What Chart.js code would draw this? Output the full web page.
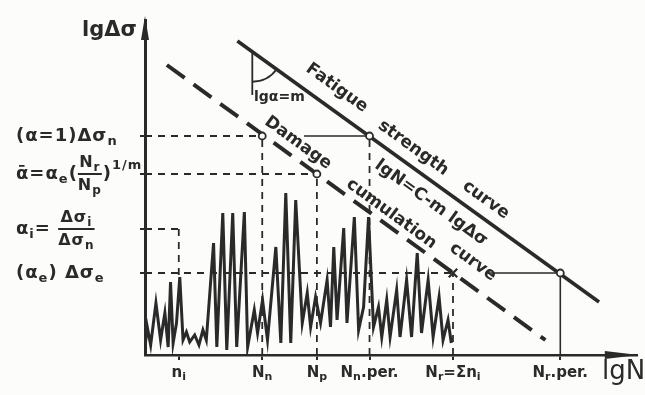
<!DOCTYPE html>
<html>
<head>
<meta charset="utf-8">
<script src="https://cdn.jsdelivr.net/npm/chart.js@4.4.0/dist/chart.umd.min.js"></script>
<style>
  html, body { margin: 0; padding: 0; background: #fcfcfa; }
</style>
</head>
<body>
<canvas id="chart" width="645" height="395"></canvas>
<script>
// =============== D A T A ================================
const xMax = 49.5;   // lg N
const yMax = 33.5;   // lg Δσ

const xTickValues = [3.4, 11.8, 17.3, 22.6, 31.0, 41.8];
const xTickLabels = ['n_{i}', 'N_{n}', 'N_{p}', 'N_{n}.per.', 'N_{r}=Σn_{i}', 'N_{r}.per.'];

const yTickValues = [21.9, 18.1, 12.6, 8.2];
const yTickLabels = [
  ['(α=1)Δσ_{n}'],
  ['ᾱ=α_{e}(', { num: 'N_{r}', den: 'N_{p}' }, ')^{1/m}'],
  ['α_{i}= ', { num: 'Δσ_{i}', den: 'Δσ_{n}' }],
  ['(α_{e}) Δσ_{e}']
];

const fatigueX = [9.3, 45.7];
const fatigueY = [31.4, 5.3];

const damageX = [2.2, 40.3];
const damageY = [29.0, 1.5];

// load history (random-amplitude spectrum)
const loadX = [0.0, 0.23, 0.57, 1.1, 1.57, 2.0, 2.33, 2.57, 2.83, 3.17,
  3.5, 3.83, 4.17, 4.5, 5.0, 5.43, 5.83, 6.17, 6.9, 7.23,
  7.83, 8.23, 8.83, 9.23, 10.0, 10.33, 11.0, 11.33, 11.83, 12.33,
  13.17, 13.67, 14.17, 14.67, 15.17, 15.83, 16.33, 16.67, 17.17, 17.67,
  18.33, 18.67, 19.0, 19.33, 20.0, 20.33, 21.07, 21.5, 22.0, 22.5,
  23.0, 23.5, 23.83, 24.33, 24.67, 25.33, 25.67, 26.33, 26.83, 27.4,
  27.83, 28.5, 29.0, 29.6, 30.0, 30.5, 30.83];
const loadY = [0.8, 2.8, 1.0, 5.2, 1.5, 4.2, 0.8, 7.3, 1.2, 3.2,
  7.8, 1.5, 2.3, 1.3, 2.0, 1.0, 2.5, 1.5, 11.2, 0.8,
  14.2, 0.5, 14.2, 0.8, 14.3, 0.8, 4.5, 2.2, 5.5, 1.5,
  10.8, 1.2, 16.2, 1.2, 15.5, 3.2, 6.2, 2.8, 5.8, 3.2,
  7.5, 2.8, 10.8, 3.5, 12.7, 3.2, 13.8, 2.5, 4.8, 13.8,
  2.8, 4.8, 1.8, 5.5, 1.8, 6.5, 1.8, 7.5, 1.8, 10.2,
  2.2, 7.5, 1.8, 5.8, 1.5, 3.5, 1.2];

// =============== H E L P E R S ==========================
const ink = '#2a2a2a';
const FONT = "'DejaVu Sans', sans-serif";

const [ni, Nn, Np, Nnper, Nr, Nrper] = xTickValues;
const [lvN, lvBar, lvI, lvE] = yTickValues;

const pts = (xs, ys) => xs.map((x, i) => ({ x, y: ys[i] }));
const seg = (x1, y1, x2, y2) => [{ x: x1, y: y1 }, { x: x2, y: y2 }];

// height of a fatigue / damage line at a given x
const onLine = (xs, ys, x) => ys[0] + (ys[1] - ys[0]) * (x - xs[0]) / (xs[1] - xs[0]);

function guide(data, dashed, width) {
  return {
    data, showLine: true, borderColor: ink, borderWidth: width || 1.8,
    borderDash: dashed ? [7, 6] : [], pointRadius: 0, order: 3
  };
}

// tiny rich text: _{sub} ^{sup}
function parseRich(s) {
  const out = [];
  const re = /([_^])\{([^}]*)\}|([^_^]+)/g;
  let m;
  while ((m = re.exec(s))) {
    if (m[3]) out.push({ t: m[3], mode: 'n' });
    else out.push({ t: m[2], mode: m[1] === '_' ? 'sub' : 'sup' });
  }
  return out;
}
function richWidth(ctx, s, size) {
  let w = 0;
  parseRich(s).forEach(p => {
    ctx.font = `bold ${p.mode === 'n' ? size : Math.round(size * 0.72)}px ${FONT}`;
    w += ctx.measureText(p.t).width;
  });
  return w;
}
function drawRich(ctx, s, x, y, size, align) {
  let cx = x;
  if (align === 'center') cx -= richWidth(ctx, s, size) / 2;
  ctx.textBaseline = 'middle';
  ctx.textAlign = 'left';
  parseRich(s).forEach(p => {
    const sz = p.mode === 'n' ? size : Math.round(size * 0.72);
    ctx.font = `bold ${sz}px ${FONT}`;
    const dy = p.mode === 'sub' ? size * 0.3 : p.mode === 'sup' ? -size * 0.45 : 0;
    ctx.fillText(p.t, cx, y + dy);
    cx += ctx.measureText(p.t).width;
  });
  return cx;
}

// =============== L A B E L S  /  A R R O W S =============
const fatigueWords = [
  { text: 'Fatigue', x: 19.3, y: 26.7 },
  { text: 'strength', x: 27.0, y: 20.7 },
  { text: 'curve', x: 34.3, y: 15.5 },
  { text: 'lgN=C-m lgΔσ', x: 28.8, y: 15.2 }
];
const damageWords = [
  { text: 'Damage', x: 15.4, y: 21.2 },
  { text: 'cumulation', x: 24.8, y: 14.1 },
  { text: 'curve', x: 33.0, y: 9.3 }
];

const drawings = {
  id: 'drawings',
  beforeDraw(chart) {
    const { ctx } = chart;
    ctx.save();
    ctx.fillStyle = '#fcfcfa';
    ctx.fillRect(0, 0, chart.width, chart.height);
    ctx.restore();
  },
  afterDraw(chart) {
    const { ctx, chartArea: a, scales: { x, y } } = chart;
    ctx.save();
    ctx.fillStyle = ink;
    ctx.strokeStyle = ink;

    // arrow heads
    ctx.beginPath();
    ctx.moveTo(a.left, a.top - 4);
    ctx.lineTo(a.left - 4, a.top + 20);
    ctx.lineTo(a.left + 4, a.top + 20);
    ctx.closePath();
    ctx.fill();
    ctx.beginPath();
    ctx.moveTo(a.right + 2, a.bottom);
    ctx.lineTo(a.right - 32, a.bottom - 4);
    ctx.lineTo(a.right - 32, a.bottom + 4);
    ctx.closePath();
    ctx.fill();

    // axis titles
    drawRich(ctx, 'lgΔσ', 82, 31, 21);
    ctx.font = `26px ${FONT}`;
    ctx.textBaseline = 'middle';
    ctx.textAlign = 'left';
    ctx.fillText('lgN', 602, 372);

    // x tick labels
    xTickValues.forEach((v, i) => drawRich(ctx, xTickLabels[i], x.getPixelForValue(v), 373, 15, 'center'));

    // y level labels (with fractions)
    ctx.letterSpacing = '1px';
    yTickValues.forEach((v, i) => {
      const py = y.getPixelForValue(v);
      let cx = 16;
      yTickLabels[i].forEach(part => {
        if (typeof part === 'string') {
          cx = drawRich(ctx, part, cx, py, 18);
        } else {
          const w = Math.max(richWidth(ctx, part.num, 16), richWidth(ctx, part.den, 16));
          drawRich(ctx, part.num, cx + w / 2, py - 11, 16, 'center');
          drawRich(ctx, part.den, cx + w / 2, py + 12, 16, 'center');
          ctx.lineWidth = 2;
          ctx.beginPath();
          ctx.moveTo(cx, py);
          ctx.lineTo(cx + w, py);
          ctx.stroke();
          cx += w + 1;
        }
      });
    });
    ctx.letterSpacing = '0px';

    // words along the two curves
    const angleOf = (xs, ys) => Math.atan2(
      y.getPixelForValue(ys[1]) - y.getPixelForValue(ys[0]),
      x.getPixelForValue(xs[1]) - x.getPixelForValue(xs[0]));
    const rotated = (list, ang) => list.forEach(w => {
      ctx.save();
      ctx.translate(x.getPixelForValue(w.x), y.getPixelForValue(w.y));
      ctx.rotate(ang);
      drawRich(ctx, w.text, 0, 0, 17, 'center');
      ctx.restore();
    });
    rotated(fatigueWords, angleOf(fatigueX, fatigueY));
    rotated(damageWords, angleOf(damageX, damageY));

    // angle mark lgα = m
    const ax = 10.8;
    const cxp = x.getPixelForValue(ax), cyp = y.getPixelForValue(onLine(fatigueX, fatigueY, ax));
    ctx.lineWidth = 1.8;
    ctx.beginPath();
    ctx.arc(cxp, cyp, 30, angleOf(fatigueX, fatigueY), Math.PI / 2);
    ctx.stroke();
    drawRich(ctx, 'lgα=m', 254, 97, 14);
    ctx.restore();
  }
};

// =============== C H A R T ==============================
const angleTop = onLine(fatigueX, fatigueY, 10.8);

new Chart(document.getElementById('chart'), {
  type: 'scatter',
  data: {
    datasets: [
      { data: [{ x: Nn, y: lvN }, { x: Np, y: lvBar }, { x: Nnper, y: lvN }, { x: Nrper, y: lvE }],
        pointRadius: 3.5, pointBackgroundColor: '#fcfcfa', pointBorderColor: ink, pointBorderWidth: 1.8, order: 0 },
      { data: [{ x: Nr, y: lvE }], pointStyle: 'crossRot', pointRadius: 6, pointBorderColor: ink, pointBorderWidth: 2.2, order: 0 },
      { data: pts(fatigueX, fatigueY), showLine: true, borderColor: ink, borderWidth: 3.6, pointRadius: 0, order: 1 },
      { data: pts(damageX, damageY), showLine: true, borderColor: ink, borderWidth: 4, borderDash: [22, 11], pointRadius: 0, order: 1 },
      { data: pts(loadX, loadY), showLine: true, borderColor: ink, borderWidth: 3, pointRadius: 0, tension: 0, order: 2 },
      guide(seg(0, lvN, Nn, lvN), true),
      guide(seg(16.0, lvN, Nnper, lvN), false, 1.6),
      guide(seg(Nn, 0, Nn, lvN), true),
      guide(seg(0, lvBar, Np, lvBar), true),
      guide(seg(Np, 0, Np, lvBar), true),
      guide(seg(Nnper, 0, Nnper, lvN), true),
      guide(seg(0, lvI, ni, lvI), true),
      guide(seg(ni, lvI, ni, 7.5), true),
      guide(seg(0, lvE, Nr, lvE), true),
      guide(seg(Nr, 0, Nr, lvE), true),
      guide(seg(34.5, lvE, Nrper, lvE), false, 1.6),
      guide(seg(Nrper, 0, Nrper, lvE), false, 1.6),
      guide(seg(10.8, angleTop, 10.8, 26.0), false, 1.8)
    ]
  },
  options: {
    responsive: false,
    animation: false,
    events: [],
    layout: { padding: { left: 0, right: 5, top: 20, bottom: 0 } },
    plugins: { legend: { display: false }, tooltip: { enabled: false } },
    scales: {
      x: {
        type: 'linear', min: 0, max: xMax,
        afterBuildTicks: s => { s.ticks = xTickValues.map(v => ({ value: v })); },
        afterFit: s => { s.height = 40; },
        ticks: { display: false },
        grid: { drawOnChartArea: false, color: ink, lineWidth: 2, tickLength: 5 },
        border: { color: ink, width: 2.5 }
      },
      y: {
        type: 'linear', min: 0, max: yMax,
        afterBuildTicks: s => { s.ticks = yTickValues.map(v => ({ value: v })); },
        afterFit: s => { s.width = 145; },
        ticks: { display: false },
        grid: { drawOnChartArea: false, color: ink, lineWidth: 2, tickLength: 5 },
        border: { color: ink, width: 3 }
      }
    }
  },
  plugins: [drawings]
});
</script>
</body>
</html>
